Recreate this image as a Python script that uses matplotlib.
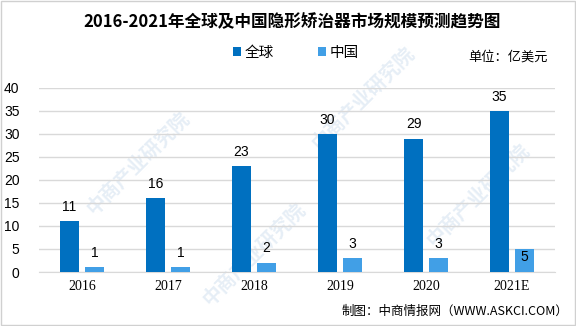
import numpy as np
import matplotlib.pyplot as plt
from matplotlib.patches import Rectangle

plt.rcParams['font.family'] = ['Noto Sans CJK SC', 'DejaVu Sans']

years = ['2016', '2017', '2018', '2019', '2020', '2021E']
global_vals = [11, 16, 23, 30, 29, 35]
china_vals = [1, 1, 2, 3, 3, 5]

c_global = '#0070C0'
c_china = '#419FE6'

fig = plt.figure(figsize=(5.76, 3.26), dpi=100)
ax = fig.add_axes([39 / 576, 1 - 272 / 326, 516 / 576, 184 / 326])
ax.set_zorder(2)

# faint watermark behind the chart
for wx, wy in [(0.24, 0.50), (0.44, 0.22), (0.63, 0.70), (0.83, 0.40)]:
    fig.text(wx, wy, '中商产业研究院', fontsize=14, color='#e6eef6', rotation=45,
             ha='center', va='center', zorder=1, fontweight='bold')

x = np.arange(len(years))
w = 0.22
off = 0.145
b1 = ax.bar(x - off, global_vals, w, color=c_global, label='全球', zorder=3)
b2 = ax.bar(x + off, china_vals, w, color=c_china, label='中国', zorder=3)

for rect, v in zip(b1, global_vals):
    ax.text(rect.get_x() + rect.get_width() / 2, v + 1.6, str(v), ha='center', va='bottom',
            fontsize=10, family='Liberation Sans', zorder=4)
for rect, v in zip(b2, china_vals):
    ax.text(rect.get_x() + rect.get_width() / 2, v + 1.6 if v < 5 else v - 0.3, str(v),
            ha='center', va='bottom' if v < 5 else 'top', fontsize=10,
            family='Liberation Sans', zorder=4)

ax.set_xlim(-0.5, len(years) - 0.5)
ax.set_ylim(0, 40)
ax.set_yticks(range(0, 41, 5))
ax.set_xticks(x)
ax.set_xticklabels(years, family='Liberation Serif', fontsize=10)
ax.tick_params(axis='y', labelsize=10, length=0, pad=14)
ax.tick_params(axis='x', length=0, pad=6)
for lab in ax.get_yticklabels():
    lab.set_family('Liberation Sans')
ax.grid(axis='y', color='#d9d9d9', linewidth=1, zorder=0)
ax.set_axisbelow(True)
for s in ['top', 'right', 'left']:
    ax.spines[s].set_visible(False)
ax.spines['bottom'].set_color('#d9d9d9')
ax.patch.set_alpha(0)

fig.text(292 / 576, 1 - 22 / 326, '2016-2021年全球及中国隐形矫治器市场规模预测趋势图',
         ha='center', va='center', fontsize=12, fontweight='bold', zorder=3)
fig.legend(handles=[b1, b2], loc='center', bbox_to_anchor=(296 / 576, 1 - 53 / 326),
           ncol=2, frameon=False, fontsize=10.5, handlelength=0.55, handleheight=0.55,
           handletextpad=0.25, columnspacing=3.0)
fig.text(548 / 576, 1 - 57 / 326, '单位：亿美元', ha='right', va='center', fontsize=9.5, zorder=3)
fig.text(568 / 576, 1 - 311 / 326, '制图：中商情报网（WWW.ASKCI.COM）', ha='right',
         va='center', fontsize=9, zorder=3)

fig.add_artist(Rectangle((0.001, 0.002), 0.997, 0.995, transform=fig.transFigure,
                         fill=False, edgecolor='#d0d0d0', linewidth=1, zorder=3))

fig.savefig('out.png', dpi=100)
